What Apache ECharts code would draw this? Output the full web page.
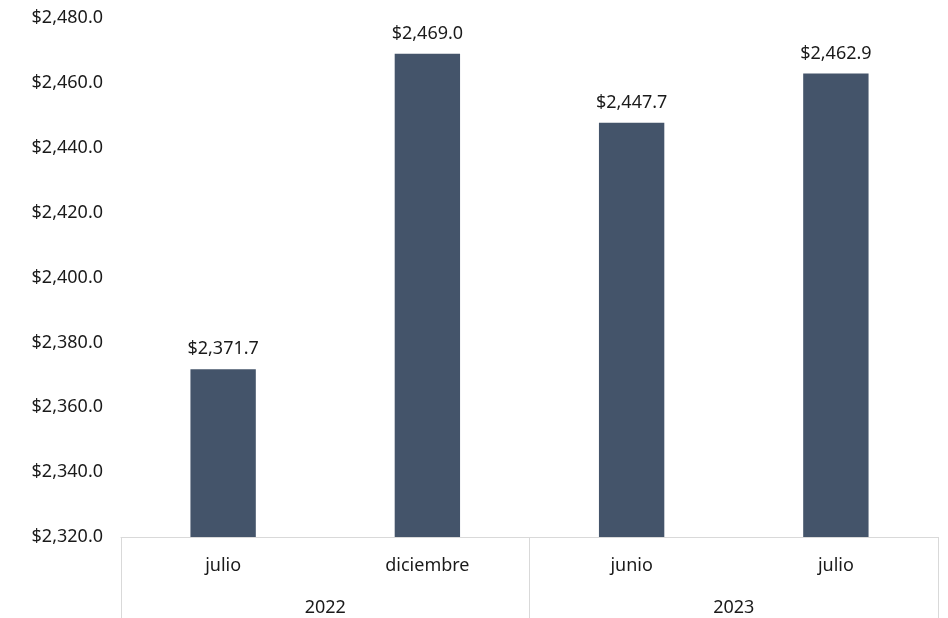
<!DOCTYPE html>
<html>
<head>
<meta charset="utf-8">
<script src="https://cdn.jsdelivr.net/npm/echarts@6/dist/echarts.min.js"></script>
<style>html,body{margin:0;padding:0;background:#fff}#c{width:948px;height:618px}</style>
</head>
<body>
<div id="c"></div>
<script>
const months = ['julio', 'diciembre', 'junio', 'julio'];
const years = ['2022', '2023'];
const values = [2371.7, 2469.0, 2447.7, 2462.9];
const yMin = 2320, yMax = 2480, yStep = 20;

function money(v) {
  return '$' + Number(v).toLocaleString('en-US', {minimumFractionDigits: 1, maximumFractionDigits: 1});
}

const chart = echarts.init(document.getElementById('c'), null, {renderer: 'canvas'});
const font = '"Noto Sans", "Open Sans", sans-serif';
const fs = 18;
chart.setOption({
  animation: false,
  textStyle: {fontFamily: font},
  grid: {left: 121, right: 10, top: 18, bottom: 81},
  xAxis: [{
    type: 'category',
    data: months.map((m, i) => ({value: m + i})),
    position: 'bottom',
    axisLine: {show: true, lineStyle: {color: '#d9d9d9', width: 1}},
    axisTick: {show: false},
    axisLabel: {
      formatter: (v, i) => months[i],
      color: '#1a1a1a', fontSize: fs, margin: 20, fontFamily: font
    },
    splitLine: {show: false}
  }, {
    type: 'category',
    data: years,
    position: 'bottom',
    axisLine: {show: false},
    axisTick: {show: true, length: 82, lineStyle: {color: '#d9d9d9', width: 1}},
    axisLabel: {color: '#1a1a1a', fontSize: fs, margin: 62, fontFamily: font},
    splitLine: {show: false}
  }],
  yAxis: {
    type: 'value',
    min: yMin, max: yMax, interval: yStep,
    axisLine: {show: false},
    axisTick: {show: false},
    splitLine: {show: false},
    axisLabel: {formatter: money, color: '#1a1a1a', fontSize: fs, margin: 18, padding: [5, 0, 0, 0], fontFamily: font}
  },
  series: [{
    type: 'bar',
    xAxisIndex: 0,
    data: values,
    barWidth: '32%',
    itemStyle: {color: '#44546A'},
    label: {
      show: true, position: 'top', distance: 11,
      formatter: p => money(p.value),
      color: '#1a1a1a', fontSize: fs, fontFamily: font
    }
  }]
});
</script>
</body>
</html>
